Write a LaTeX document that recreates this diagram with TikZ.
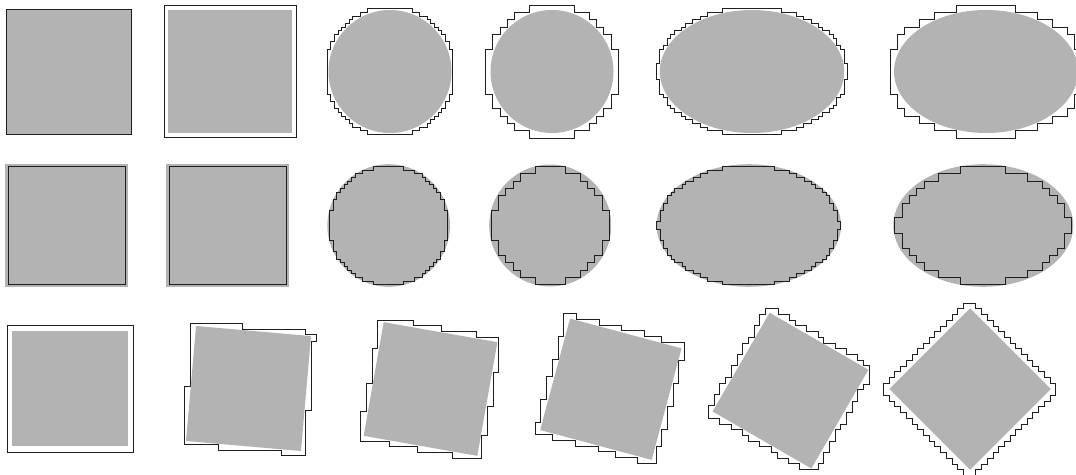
\documentclass[tikz,border=0pt]{standalone}
\definecolor{shapefill}{RGB}{179,179,179}
\definecolor{outl}{RGB}{30,30,30}
\tikzset{
  cellstroke/.style={draw=outl, line width=2pt, line join=miter},
  cellwhite/.style={fill=white},
  cellgray/.style={fill=shapefill},
  thinline/.style={draw=outl, line width=1pt},
}
% rows of grid cells covering an ellipse: #1 cx, #2 cy, #3 a, #4 b, #5 cell, #6 mode (1 outer, 0 inner), #7 style
\newcommand\EllRows[7]{%
  \pgfmathtruncatemacro\ekk{ceil(#4/#5)}%
  \pgfmathtruncatemacro\ekm{-\ekk}%
  \pgfmathtruncatemacro\ekp{\ekk-1}%
  \foreach \k in {\ekm,...,\ekp}{%
    \pgfmathsetmacro\eda{(\k>=0) ? (\k)*#5 : -((\k)+1)*#5}%
    \pgfmathsetmacro\edb{(\k>=0) ? ((\k)+1)*#5 : -(\k)*#5}%
    \pgfmathsetmacro\edist{(#6==1) ? \eda : \edb}%
    \pgfmathsetmacro\erat{min(1,\edist/#4)}%
    \pgfmathsetmacro\ehw{#3*sqrt(max(0,1-\erat*\erat))}%
    \pgfmathtruncatemacro\enc{ceil(\ehw/#5)}%
    \pgfmathtruncatemacro\enf{floor(\ehw/#5)}%
    \pgfmathtruncatemacro\en{(#6==1) ? \enc : \enf}%
    \pgfmathtruncatemacro\eok{and(\edist<#4, \en>0)}%
    \ifnum\eok=1
      \path[#7] ({#1-\en*#5},{#2+(\k)*#5}) rectangle ({#1+\en*#5},{#2+((\k)+1)*#5});
    \fi
  }%
}
% rows of grid cells covering a rotated square: #1 cx, #2 cy, #3 h, #4 angle, #5 cell, #6 gx, #7 gy, #8 style
\newcommand\RotRows[8]{%
  \pgfmathsetmacro\rc{cos(#4)}%
  \pgfmathsetmacro\rs{sin(#4)}%
  \pgfmathsetmacro\rY{#3*(\rc+\rs)}%
  \pgfmathsetmacro\rdL{#3*(\rc-\rs)}%
  \pgfmathsetmacro\rdR{#3*(\rs-\rc)}%
  \pgfmathtruncatemacro\rka{floor((#2-\rY-#7)/#5)}%
  \pgfmathtruncatemacro\rkb{floor((#2+\rY-#7)/#5)}%
  \foreach \k in {\rka,...,\rkb}{%
    \pgfmathsetmacro\ryA{#7+(\k)*#5}%
    \pgfmathsetmacro\ryB{\ryA+#5}%
    \pgfmathsetmacro\rdA{max(\ryA-#2,-\rY)}%
    \pgfmathsetmacro\rdB{min(\ryB-#2,\rY)}%
    \pgfmathsetmacro\rxa{max((-#3-(\rdA)*\rs)/\rc, ((\rdA)*\rc-#3)/\rs)}%
    \pgfmathsetmacro\rxb{max((-#3-(\rdB)*\rs)/\rc, ((\rdB)*\rc-#3)/\rs)}%
    \pgfmathsetmacro\rxmin{and((\rdL)>=(\rdA), (\rdL)<=(\rdB)) ? -\rY : min(\rxa,\rxb)}%
    \pgfmathsetmacro\rxc{min((#3-(\rdA)*\rs)/\rc, ((\rdA)*\rc+#3)/\rs)}%
    \pgfmathsetmacro\rxd{min((#3-(\rdB)*\rs)/\rc, ((\rdB)*\rc+#3)/\rs)}%
    \pgfmathsetmacro\rxmax{and((\rdR)>=(\rdA), (\rdR)<=(\rdB)) ? \rY : max(\rxc,\rxd)}%
    \pgfmathtruncatemacro\ria{floor((#1+(\rxmin)-#6)/#5)}%
    \pgfmathtruncatemacro\rib{ceil((#1+(\rxmax)-#6)/#5)}%
    \pgfmathtruncatemacro\rok{((\rdA)<(\rdB)) ? 1 : 0}%
    \ifnum\rok=1
      \path[#8] ({#6+(\ria)*#5},\ryA) rectangle ({#6+(\rib)*#5},\ryB);
    \fi
  }%
}
\newcommand\RotSq[4]{%
  \pgfmathsetmacro\qc{#3*cos(#4)}%
  \pgfmathsetmacro\qs{#3*sin(#4)}%
  \fill[shapefill] ({#1-\qc+\qs},{#2-\qs-\qc}) -- ({#1+\qc+\qs},{#2+\qs-\qc})
     -- ({#1+\qc-\qs},{#2+\qs+\qc}) -- ({#1-\qc-\qs},{#2-\qs+\qc}) -- cycle;
}
\newcommand\OuterEll[5]{% cx cy a b cell
  \EllRows{#1}{#2}{#3}{#4}{#5}{1}{cellstroke}
  \EllRows{#1}{#2}{#3}{#4}{#5}{1}{cellwhite}
  \fill[shapefill] (#1,#2) ellipse [x radius=#3pt, y radius=#4pt];
}
\newcommand\InnerEll[5]{%
  \fill[shapefill] (#1,#2) ellipse [x radius=#3pt, y radius=#4pt];
  \EllRows{#1}{#2}{#3}{#4}{#5}{0}{cellstroke}
  \EllRows{#1}{#2}{#3}{#4}{#5}{0}{cellgray}
}
\newcommand\OuterRot[7]{% cx cy h angle cell gx gy
  \RotRows{#1}{#2}{#3}{#4}{#5}{#6}{#7}{cellstroke}
  \RotRows{#1}{#2}{#3}{#4}{#5}{#6}{#7}{cellwhite}
  \RotSq{#1}{#2}{#3}{#4}
}
\begin{document}
\begin{tikzpicture}[x=1pt, y=-1pt]
\useasboundingbox (0,0) rectangle (1076,474);
\fill[white] (0,0) rectangle (1076,474);
\clip (0,0) rectangle (1076,474);
% ---------- row 1: outer covers
\fill[shapefill] (7,9.8) rectangle (131,133.8);
\draw[thinline] (6.67,9.47) rectangle (131.33,134.13);
\draw[thinline] (164,5.5) rectangle (296,137.5);
\fill[shapefill] (168.3,9.8) rectangle (291.7,133.2);
\OuterEll{390}{71.5}{61.5}{61.5}{3.6667}
\OuterEll{552}{71.5}{61.5}{61.5}{7.3333}
\OuterEll{752}{71.5}{92.2}{61.5}{3.6667}
\OuterEll{986}{71.5}{92}{61.5}{7.3333}
% ---------- row 2: inner covers
\fill[shapefill] (5.3,164) rectangle (128.3,287);
\draw[thinline] (8.13,166.83) rectangle (125.47,284.17);
\fill[shapefill] (166.3,164) rectangle (289.3,287);
\draw[thinline] (169.1,166.8) rectangle (286.5,284.2);
\InnerEll{388.7}{225.5}{61.3}{61.3}{3.6667}
\InnerEll{550.2}{225.5}{61}{61}{7.3333}
\InnerEll{748.8}{225.5}{92.2}{61.3}{3.6667}
\InnerEll{983.3}{225.5}{90}{61.3}{7.3333}
% ---------- row 3: rotated squares
\draw[thinline] (7,325.3) rectangle (133,452);
\fill[shapefill] (12.3,331) rectangle (127.7,446.3);
\OuterRot{248.5}{388.5}{57.7}{5}{5.71}{185}{324}
\OuterRot{430.5}{389}{57.7}{10}{5.71}{361.3}{320.7}
\OuterRot{610.85}{389.2}{57.7}{15}{5.71}{535.7}{314.3}
\OuterRot{790.5}{390.6}{57}{30}{5.71}{709}{309.3}
\OuterRot{970}{389}{57.1}{45}{5.71}{884}{303.7}
\end{tikzpicture}
\end{document}
